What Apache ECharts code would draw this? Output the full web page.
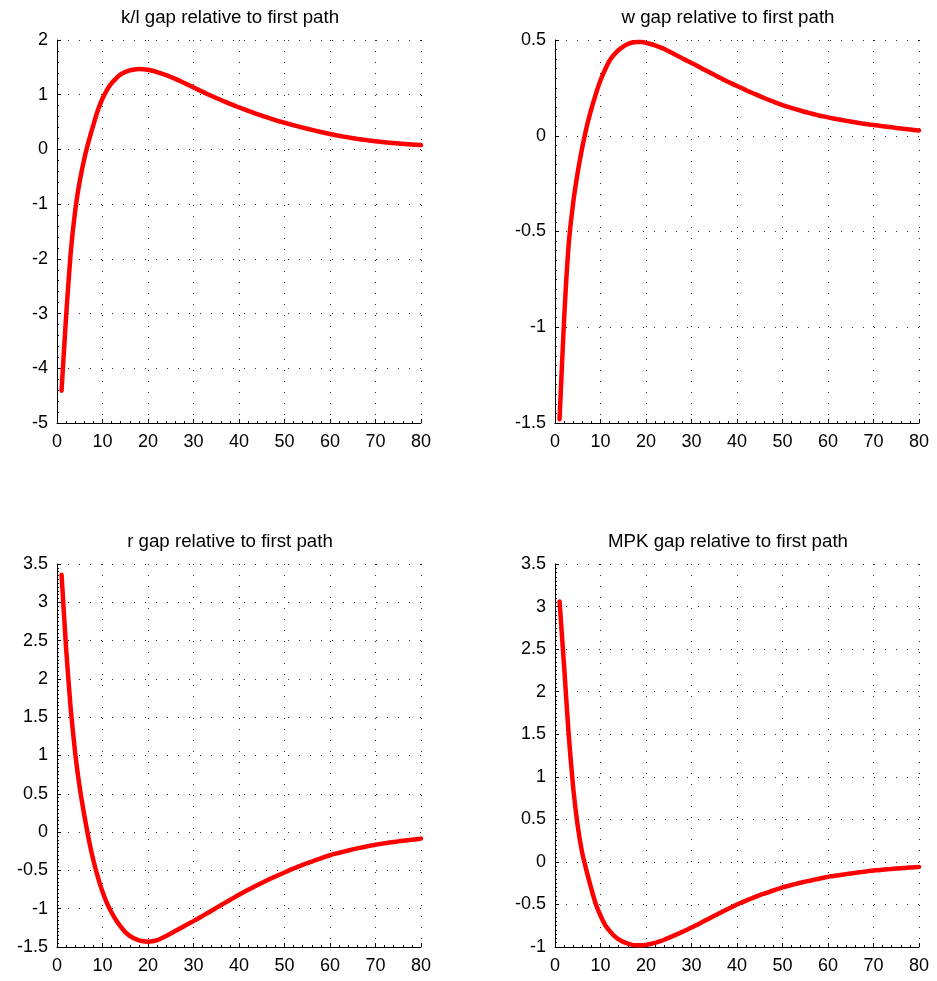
<!DOCTYPE html>
<html>
<head>
<meta charset="utf-8">
<script src="https://cdn.jsdelivr.net/npm/echarts@6/dist/echarts.min.js"></script>
<style>
html,body{margin:0;padding:0;background:#fff;}
#chart{width:937px;height:981px;}
</style>
</head>
<body>
<div id="chart"></div>
<script>
// Periods
var periods = [];
for (var i = 1; i <= 80; i++) periods.push(i);

var titles = [
  'k/l gap relative to first path',
  'w gap relative to first path',
  'r gap relative to first path',
  'MPK gap relative to first path'
];

var klGap = [
  -4.41, -3.05, -1.9, -1.12, -0.58, -0.17, 0.16, 0.45, 0.72, 0.93,
  1.09, 1.21, 1.3, 1.37, 1.415, 1.445, 1.462, 1.47, 1.467, 1.455,
  1.437, 1.414, 1.387, 1.357, 1.324, 1.289, 1.252, 1.213, 1.173, 1.133,
  1.093, 1.053, 1.014, 0.976, 0.939, 0.903, 0.868, 0.834, 0.801, 0.769,
  0.737, 0.706, 0.676, 0.646, 0.617, 0.589, 0.562, 0.536, 0.511, 0.487,
  0.464, 0.442, 0.42, 0.399, 0.378, 0.358, 0.338, 0.319, 0.3, 0.282,
  0.265, 0.249, 0.234, 0.22, 0.206, 0.193, 0.181, 0.17, 0.159, 0.149,
  0.14, 0.131, 0.123, 0.116, 0.109, 0.102, 0.096, 0.09, 0.085, 0.08
];

var wGap = [
  -1.48, -0.96, -0.57, -0.35, -0.19, -0.06, 0.05, 0.14, 0.22, 0.29,
  0.345, 0.392, 0.424, 0.448, 0.466, 0.479, 0.487, 0.49, 0.489, 0.485,
  0.479, 0.472, 0.463, 0.453, 0.441, 0.429, 0.417, 0.404, 0.392, 0.38,
  0.368, 0.355, 0.343, 0.33, 0.318, 0.306, 0.294, 0.282, 0.271, 0.26,
  0.249, 0.238, 0.227, 0.217, 0.207, 0.197, 0.187, 0.178, 0.169, 0.16,
  0.152, 0.145, 0.138, 0.131, 0.124, 0.118, 0.112, 0.106, 0.101, 0.096,
  0.091, 0.087, 0.082, 0.078, 0.074, 0.07, 0.066, 0.063, 0.059, 0.056,
  0.053, 0.05, 0.047, 0.044, 0.041, 0.038, 0.035, 0.033, 0.03, 0.028
];

var rGap = [
  3.36, 2.4, 1.62, 1.03, 0.58, 0.22, -0.1, -0.37, -0.59, -0.78,
  -0.93, -1.05, -1.15, -1.235, -1.305, -1.355, -1.39, -1.413, -1.426, -1.43,
  -1.425, -1.41, -1.385, -1.356, -1.325, -1.292, -1.259, -1.226, -1.194, -1.162,
  -1.128, -1.094, -1.06, -1.025, -0.99, -0.955, -0.92, -0.886, -0.852, -0.818,
  -0.786, -0.754, -0.723, -0.693, -0.663, -0.634, -0.606, -0.579, -0.553, -0.527,
  -0.5, -0.475, -0.451, -0.428, -0.405, -0.384, -0.363, -0.342, -0.321, -0.302,
  -0.285, -0.27, -0.255, -0.24, -0.225, -0.212, -0.2, -0.188, -0.175, -0.165,
  -0.155, -0.146, -0.137, -0.129, -0.121, -0.113, -0.106, -0.099, -0.092, -0.085
];

var mpkGap = [
  3.06, 2.3, 1.5, 0.87, 0.42, 0.1, -0.12, -0.32, -0.5, -0.63,
  -0.74, -0.81, -0.87, -0.91, -0.94, -0.96, -0.975, -0.98, -0.98, -0.975,
  -0.965, -0.952, -0.935, -0.915, -0.893, -0.87, -0.846, -0.822, -0.797, -0.772,
  -0.745, -0.718, -0.69, -0.662, -0.634, -0.607, -0.58, -0.553, -0.527, -0.5,
  -0.477, -0.455, -0.433, -0.411, -0.39, -0.372, -0.354, -0.336, -0.318, -0.3,
  -0.286, -0.272, -0.258, -0.245, -0.232, -0.221, -0.209, -0.198, -0.187, -0.176,
  -0.168, -0.16, -0.152, -0.144, -0.136, -0.129, -0.122, -0.115, -0.108, -0.102,
  -0.097, -0.092, -0.087, -0.083, -0.079, -0.075, -0.071, -0.067, -0.063, -0.06
];

var yMins = [-5, -1.5, -1.5, -1];
var yMaxs = [2, 0.5, 3.5, 3.5];
var yIntervals = [1, 0.5, 0.5, 0.5];
var yMinorSplits = [5, 10, 10, 10];
var xMin = 0, xMax = 80, xInterval = 10;

var allSeries = [klGap, wGap, rGap, mpkGap];

var FONT = 'Arial, "Liberation Sans", sans-serif';
var gridPos = [
  {left: 57, top: 40},
  {left: 555, top: 40},
  {left: 57, top: 564},
  {left: 555, top: 564}
];
var GW = 364, GH = 383;

var grids = [], xAxes = [], yAxes = [], series = [], graphics = [];
for (var k = 0; k < 4; k++) {
  grids.push({left: gridPos[k].left, top: gridPos[k].top, width: GW, height: GH, containLabel: false});
  var splitStyle = {show: true, lineStyle: {color: '#000', width: 1, type: [1, 10], opacity: 0.85}};
  xAxes.push({
    type: 'value', gridIndex: k, min: xMin, max: xMax, interval: xInterval,
    axisLine: {show: true, onZero: false, lineStyle: {color: '#000', width: 1}},
    axisTick: {show: true, inside: true, length: 4, lineStyle: {color: '#000'}},
    minorTick: {show: true, splitNumber: 5, length: 2, lineStyle: {color: '#000'}},
    axisLabel: {color: '#000', fontSize: 18, fontFamily: FONT, margin: 10},
    splitLine: splitStyle
  });
  yAxes.push({
    type: 'value', gridIndex: k, min: yMins[k], max: yMaxs[k], interval: yIntervals[k],
    axisLine: {show: true, onZero: false, lineStyle: {color: '#000', width: 1}},
    axisTick: {show: true, inside: true, length: 4, lineStyle: {color: '#000'}},
    minorTick: {show: true, splitNumber: yMinorSplits[k], length: 2, lineStyle: {color: '#000'}},
    axisLabel: {color: '#000', fontSize: 18, fontFamily: FONT, margin: 9},
    splitLine: splitStyle
  });
  var pts = [];
  for (var j = 0; j < periods.length; j++) pts.push([periods[j], allSeries[k][j]]);
  series.push({
    type: 'line', xAxisIndex: k, yAxisIndex: k, data: pts,
    showSymbol: false, symbol: 'none', smooth: 0.2,
    lineStyle: {color: '#ff0000', width: 4.5, cap: 'round', join: 'round'},
    animation: false
  });
  graphics.push({
    type: 'text',
    x: gridPos[k].left + GW / 2 - 9,
    y: gridPos[k].top - 22,
    style: {text: titles[k], fill: '#000', font: '18.7px ' + FONT, textAlign: 'center', textVerticalAlign: 'middle'}
  });
}

var chart = echarts.init(document.getElementById('chart'), null, {renderer: 'canvas'});
chart.setOption({
  animation: false,
  backgroundColor: '#fff',
  grid: grids,
  xAxis: xAxes,
  yAxis: yAxes,
  series: series,
  graphic: graphics
});
</script>
</body>
</html>
